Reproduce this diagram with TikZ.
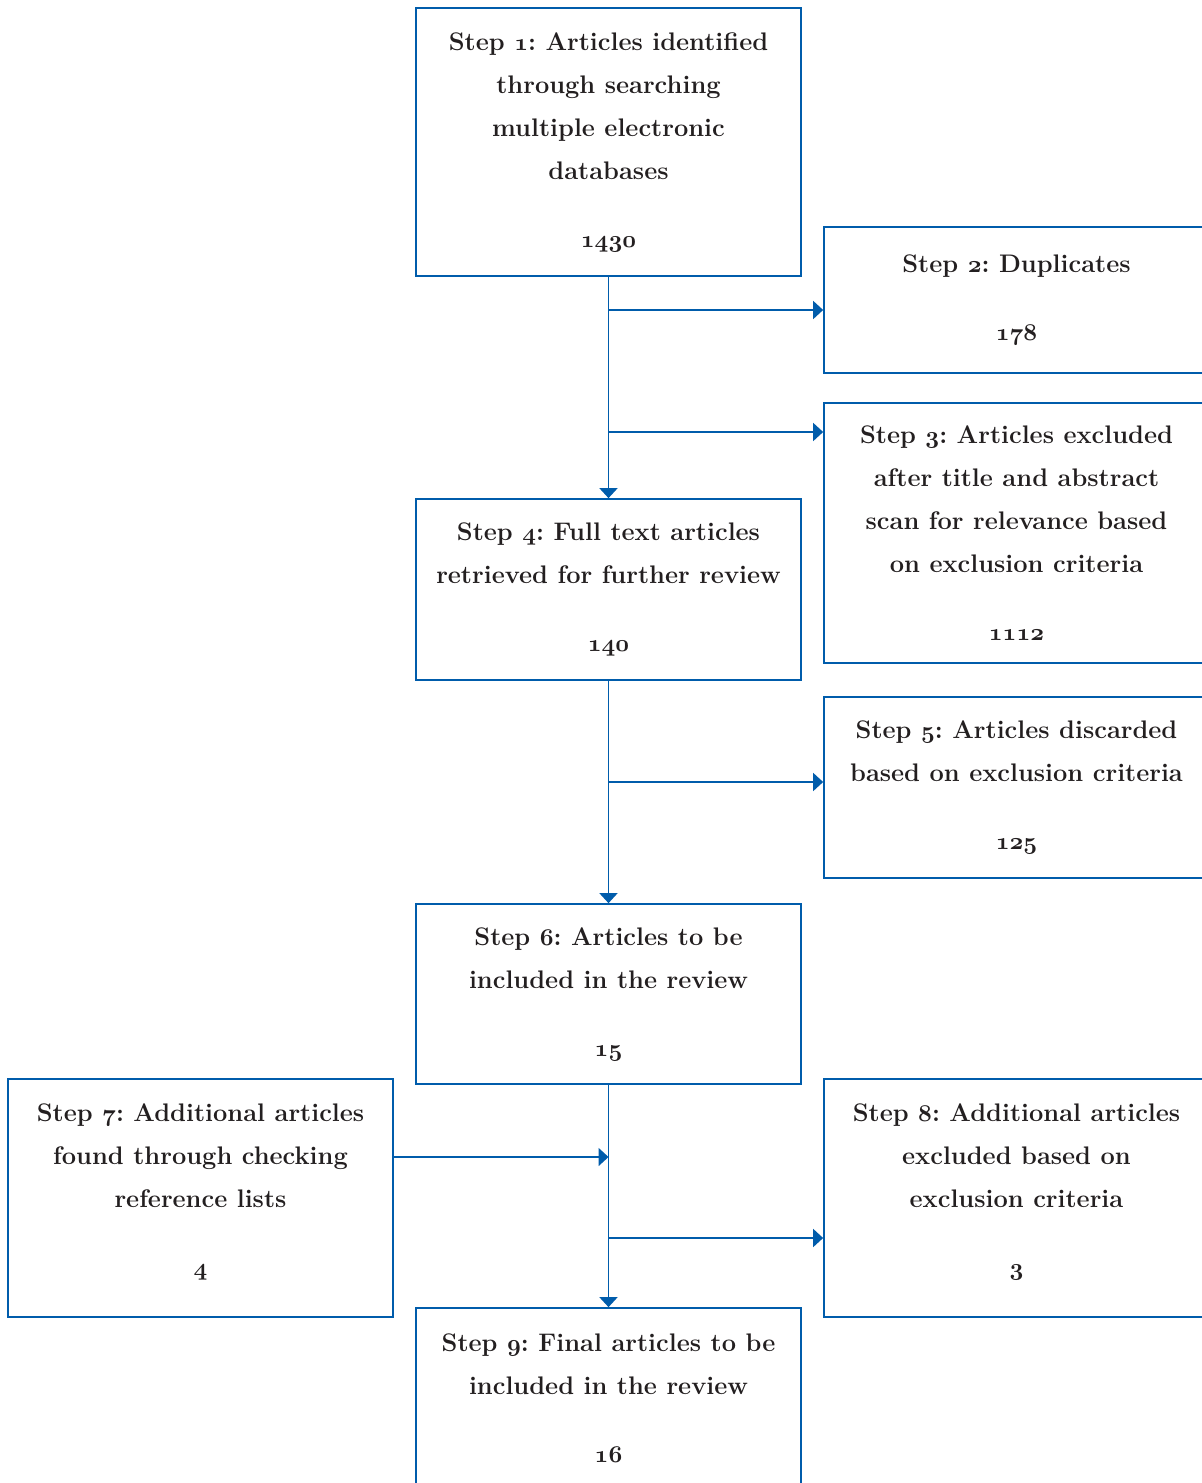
\documentclass[tikz,border=0pt]{standalone}
\usepackage{tikz}
\usetikzlibrary{positioning,arrows.meta,calc}
\usepackage{xcolor}

\definecolor{flowblue}{RGB}{0,92,171}
\definecolor{flowtext}{RGB}{35,31,32}
\newcommand{\onum}[1]{{\boldmath$\mathnormal{#1}$}}

\begin{document}
\frenchspacing
\begin{tikzpicture}[x=0.5pt, y=-0.5pt, >={Triangle[length=5pt,width=9pt]},
    stepbox/.style={draw=flowblue, line width=0.85pt, minimum width=192.5pt,
        inner sep=0pt, align=center, text=flowtext,
        font=\bfseries\fontsize{12.7}{21.5}\selectfont},
    link/.style={draw=flowblue, line width=0.85pt}]
    \useasboundingbox (0,0) rectangle (1201,1483);

    % Main column
    \node[stepbox, minimum height=134pt] (s1) at (608.5,142)
        {Step \onum{1}: Articles identified\\through searching\\multiple electronic\\databases\\[12.5pt]\onum{1430}};
    \node[stepbox, minimum height=90.5pt] (s4) at (608.5,589.5)
        {Step \onum{4}: Full text articles\\retrieved for further review\\[12.5pt]\onum{140}};
    \node[stepbox, minimum height=90pt] (s6) at (608.5,994)
        {Step \onum{6}: Articles to be\\included in the review\\[12.5pt]\onum{15}};
    \node[stepbox, minimum height=90pt] (s9) at (608.5,1398)
        {Step \onum{9}: Final articles to be\\included in the review\\[12.5pt]\onum{16}};

    % Side boxes
    \node[stepbox, minimum height=73pt] (s2) at (1016.5,300)
        {Step \onum{2}: Duplicates\\[12.5pt]\onum{178}};
    \node[stepbox, minimum height=130pt] (s3) at (1016.5,533)
        {Step \onum{3}: Articles excluded\\after title and abstract\\scan for relevance based\\on exclusion criteria\\[12.5pt]\onum{1112}};
    \node[stepbox, minimum height=90.5pt] (s5) at (1016.5,787.5)
        {Step \onum{5}: Articles discarded\\based on exclusion criteria\\[12.5pt]\onum{125}};
    \node[stepbox, minimum height=119pt] (s7) at (200.5,1198)
        {Step \onum{7}: Additional articles\\found through checking\\reference lists\\[12.5pt]\onum{4}\\[-13.5pt]};
    \node[stepbox, minimum height=119pt] (s8) at (1016.5,1198)
        {Step \onum{8}: Additional articles\\excluded based on\\exclusion criteria\\[12.5pt]\onum{3}\\[-13.5pt]};

    % Branch points
    \coordinate (b2) at (608.5,310);
    \coordinate (b3) at (608.5,432);
    \coordinate (b5) at (608.5,782);
    \coordinate (b7) at (608.5,1157);
    \coordinate (b8) at (608.5,1238);

    % Connectors
    \draw[link, ->] (s1.south) -- (s4.north);
    \draw[link, ->] (b2) -- (b2 -| s2.west);
    \draw[link, ->] (b3) -- (b3 -| s3.west);
    \draw[link, ->] (s4.south) -- (s6.north);
    \draw[link, ->] (b5) -- (b5 -| s5.west);
    \draw[link, ->] (s6.south) -- (s9.north);
    \draw[link, ->] (b7 -| s7.east) -- (b7);
    \draw[link, ->] (b8) -- (b8 -| s8.west);
\end{tikzpicture}
\end{document}
